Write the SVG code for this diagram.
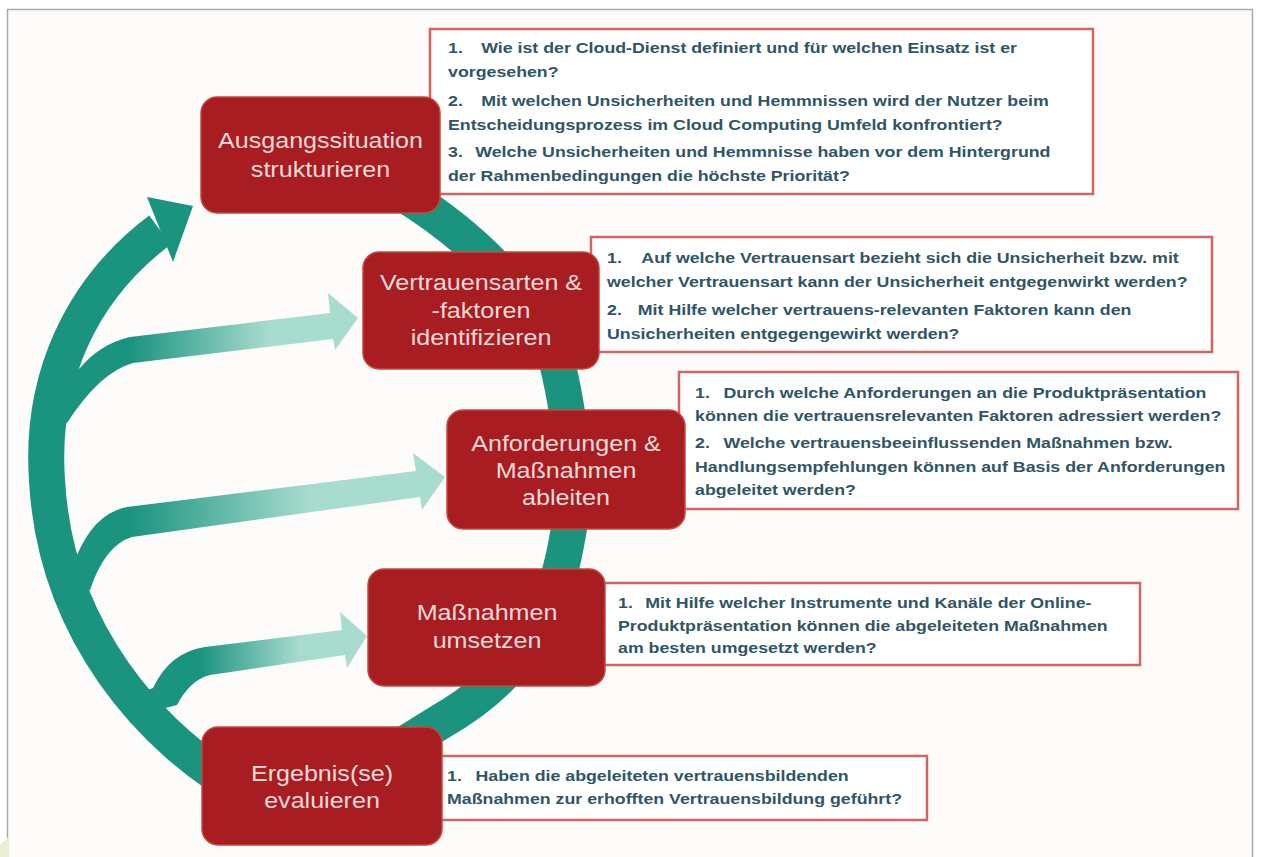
<svg xmlns="http://www.w3.org/2000/svg" width="1261" height="857" viewBox="0 0 1261 857">
<defs>
<style>
.qbox{fill:#ffffff;stroke:#d46464;stroke-width:2.5}
.node{fill:#a71d22;stroke:#c4493c;stroke-width:1.5}
.ntxt{font-family:"Liberation Sans",Arial,sans-serif;font-size:22px;fill:#f5dad8;text-anchor:middle}
.q{font-family:"Liberation Sans",Arial,sans-serif;font-size:15px;font-weight:bold;fill:#2f5663}
.ring{fill:none;stroke:#1a937f;stroke-width:36;stroke-linecap:butt}
</style>
<linearGradient id="g1" gradientUnits="userSpaceOnUse" x1="60" y1="0" x2="360" y2="0">
<stop offset="0.23" stop-color="#1a937f"/><stop offset="0.7" stop-color="#a8dccf"/></linearGradient>
<linearGradient id="g2" gradientUnits="userSpaceOnUse" x1="60" y1="0" x2="445" y2="0">
<stop offset="0.18" stop-color="#1a937f"/><stop offset="0.65" stop-color="#a8dccf"/></linearGradient>
<linearGradient id="g3" gradientUnits="userSpaceOnUse" x1="135" y1="0" x2="367" y2="0">
<stop offset="0.28" stop-color="#1a937f"/><stop offset="0.71" stop-color="#a8dccf"/></linearGradient>
</defs>
<rect x="0" y="0" width="1261" height="857" fill="#ffffff"/>
<rect x="7.5" y="9.5" width="1245" height="870" fill="#fdfcfa" stroke="#aaaaaa" stroke-width="1.5"/>
<path d="M0 845 L9 836 L9 857 L0 857 Z" fill="#e8efd4"/>

<g id="question-boxes">
<rect class="qbox" x="430" y="29" width="663" height="165"/>
<rect class="qbox" x="591" y="237" width="621" height="115"/>
<rect class="qbox" x="679" y="372" width="559" height="137"/>
<rect class="qbox" x="598" y="583" width="542" height="82"/>
<rect class="qbox" x="437" y="756" width="490" height="64"/>
</g>

<g id="connectors">
<path d="M60 380 L80 368 Q100 344 130 337 L330 313 L328 293 L358 318 L335 350 L333 339 L133 363 Q100 372 67 423 L50 415 Z" fill="url(#g1)"/>
<path d="M58 560 L77 555 Q95 513 127 507 L416 471 L413 453 L445 477 L422 510 L420 497 L132 537 Q105 545 90 590 L60 590 Z" fill="url(#g2)"/>
<path d="M135 695 L153 688 Q170 652 205 647 L342 630 L340 612 L367 636 L347 668 L345 655 L210 675 Q190 680 177 705 L150 712 Z" fill="url(#g3)"/>
<path class="ring" d="M250 795 C150 740 55 630 47 480 C40 380 80 290 160 230"/>
<polygon points="147,197 193,206 173,262" fill="#1a937f"/>
<path class="ring" d="M400 192 C460 228 545 300 560 375 C572 430 578 490 566 545 C555 605 528 672 440 722 L398 748"/>
</g>

<g id="node-ausgangssituation">
<rect class="node" x="201" y="97" width="239" height="116" rx="16"/>
<text class="ntxt" transform="translate(320.5 148) scale(1.14 1)">Ausgangssituation</text>
<text class="ntxt" transform="translate(320.5 177) scale(1.14 1)">strukturieren</text>
</g>
<g id="node-vertrauensarten">
<rect class="node" x="363" y="252" width="236" height="117" rx="16"/>
<text class="ntxt" transform="translate(481 290) scale(1.14 1)">Vertrauensarten &amp;</text>
<text class="ntxt" transform="translate(481 318) scale(1.14 1)">-faktoren</text>
<text class="ntxt" transform="translate(481 345) scale(1.14 1)">identifizieren</text>
</g>
<g id="node-anforderungen">
<rect class="node" x="447" y="410" width="238" height="119" rx="16"/>
<text class="ntxt" transform="translate(566 451) scale(1.14 1)">Anforderungen &amp;</text>
<text class="ntxt" transform="translate(566 478) scale(1.14 1)">Maßnahmen</text>
<text class="ntxt" transform="translate(566 505) scale(1.14 1)">ableiten</text>
</g>
<g id="node-umsetzen">
<rect class="node" x="368" y="569" width="237" height="117" rx="16"/>
<text class="ntxt" transform="translate(487 620) scale(1.14 1)">Maßnahmen</text>
<text class="ntxt" transform="translate(487 648) scale(1.14 1)">umsetzen</text>
</g>
<g id="node-evaluieren">
<rect class="node" x="202" y="727" width="240" height="118" rx="16"/>
<text class="ntxt" transform="translate(322 781) scale(1.14 1)">Ergebnis(se)</text>
<text class="ntxt" transform="translate(322 808) scale(1.14 1)">evaluieren</text>
</g>

<g id="text-box1" transform="translate(448 0) scale(1.185 1)">
<text class="q" x="0" y="53">1.</text>
<text class="q" x="28" y="53">Wie ist der Cloud-Dienst definiert und für welchen Einsatz ist er</text>
<text class="q" x="0" y="77">vorgesehen?</text>
<text class="q" x="0" y="106">2.</text>
<text class="q" x="28" y="106">Mit welchen Unsicherheiten und Hemmnissen wird der Nutzer beim</text>
<text class="q" x="0" y="130">Entscheidungsprozess im Cloud Computing Umfeld konfrontiert?</text>
<text class="q" x="0" y="157">3.</text>
<text class="q" x="23" y="157">Welche Unsicherheiten und Hemmnisse haben vor dem Hintergrund</text>
<text class="q" x="0" y="181">der Rahmenbedingungen die höchste Priorität?</text>
</g>
<g id="text-box2" transform="translate(607 0) scale(1.185 1)">
<text class="q" x="0" y="263">1.</text>
<text class="q" x="29" y="263">Auf welche Vertrauensart bezieht sich die Unsicherheit bzw. mit</text>
<text class="q" x="0" y="287">welcher Vertrauensart kann der Unsicherheit entgegenwirkt werden?</text>
<text class="q" x="0" y="315">2.</text>
<text class="q" x="26" y="315">Mit Hilfe welcher vertrauens-relevanten Faktoren kann den</text>
<text class="q" x="0" y="339">Unsicherheiten entgegengewirkt werden?</text>
</g>
<g id="text-box3" transform="translate(695 0) scale(1.185 1)">
<text class="q" x="0" y="398">1.</text>
<text class="q" x="24" y="398">Durch welche Anforderungen an die Produktpräsentation</text>
<text class="q" x="0" y="421">können die vertrauensrelevanten Faktoren adressiert werden?</text>
<text class="q" x="0" y="448">2.</text>
<text class="q" x="24" y="448">Welche vertrauensbeeinflussenden Maßnahmen bzw.</text>
<text class="q" x="0" y="472">Handlungsempfehlungen können auf Basis der Anforderungen</text>
<text class="q" x="0" y="495">abgeleitet werden?</text>
</g>
<g id="text-box4" transform="translate(618 0) scale(1.185 1)">
<text class="q" x="0" y="608">1.</text>
<text class="q" x="23" y="608">Mit Hilfe welcher Instrumente und Kanäle der Online-</text>
<text class="q" x="0" y="631">Produktpräsentation können die abgeleiteten Maßnahmen</text>
<text class="q" x="0" y="653">am besten umgesetzt werden?</text>
</g>
<g id="text-box5" transform="translate(447 0) scale(1.185 1)">
<text class="q" x="0" y="781">1.</text>
<text class="q" x="24" y="781">Haben die abgeleiteten vertrauensbildenden</text>
<text class="q" x="0" y="804">Maßnahmen zur erhofften Vertrauensbildung geführt?</text>
</g>
</svg>
